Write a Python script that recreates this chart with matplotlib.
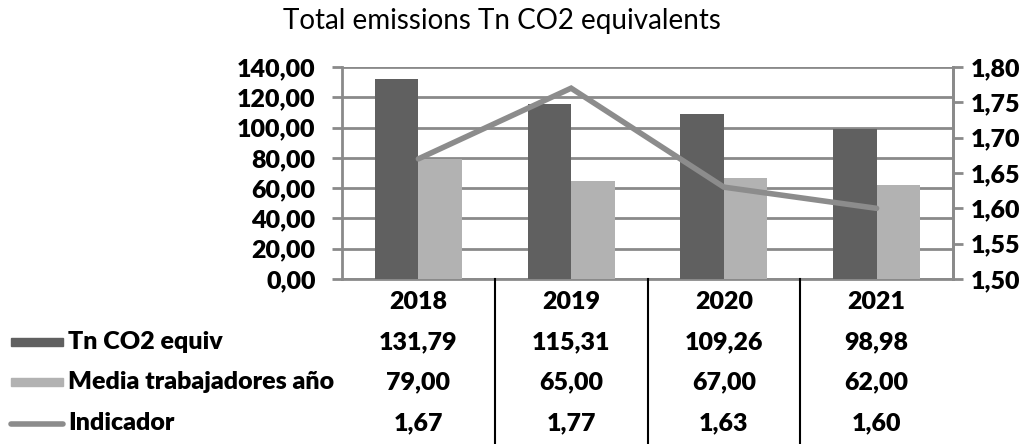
import numpy as np
import matplotlib
matplotlib.use("Agg")
import matplotlib.pyplot as plt
from matplotlib.patches import Rectangle
from matplotlib.lines import Line2D
from matplotlib.transforms import blended_transform_factory
from matplotlib.ticker import FuncFormatter

plt.rcParams['font.family'] = ['Lato', 'DejaVu Sans']

# data
years = ['2018', '2019', '2020', '2021']
emisiones = [131.79, 115.31, 109.26, 98.98]
trabajadores = [79.00, 65.00, 67.00, 62.00]
indicador = [1.67, 1.77, 1.63, 1.60]
series_names = ['Tn CO2 equiv', 'Media trabajadores año', 'Indicador']

c_dark = '#606060'
c_light = '#b2b2b2'
c_line = '#8c8c8c'
c_grid = '#8a8a8a'
BOLD = 'heavy'
FS = 18

W, H = 1030, 444
fig = plt.figure(figsize=(W / 100, H / 100), dpi=100)

def fy(px):
    return 1 - px / H

def fx(px):
    return px / W

def comma(v):
    return f'{v:.2f}'.replace('.', ',')

ax = fig.add_axes([fx(342), fy(279), fx(953) - fx(342), fy(67) - fy(279)])
x = np.arange(len(years))
bw = 0.285
ax.bar(x - bw / 2, emisiones, bw, color=c_dark, zorder=3)
ax.bar(x + bw / 2, trabajadores, bw, color=c_light, zorder=3)
ax.set_xlim(-0.5, 3.5)
ax.set_ylim(0, 140)
ax.set_yticks(np.arange(0, 141, 20))
ax.yaxis.set_major_formatter(FuncFormatter(lambda v, p: comma(v)))
ax.grid(axis='y', color=c_grid, lw=2, zorder=0)
ax.set_xticks([])
ax.spines['top'].set_visible(False)
for s in ['left', 'right', 'bottom']:
    ax.spines[s].set_color(c_grid)
    ax.spines[s].set_linewidth(2)
ax.tick_params(axis='y', length=7, width=2, color=c_grid, labelsize=FS, pad=12)
for t in ax.get_yticklabels():
    t.set_fontweight(BOLD)

ax2 = ax.twinx()
ax2.plot(x, indicador, color=c_line, lw=4, solid_joinstyle='miter', solid_capstyle='round', zorder=4)
ax2.set_ylim(1.5, 1.8)
ax2.set_yticks(np.arange(1.5, 1.801, 0.05))
ax2.yaxis.set_major_formatter(FuncFormatter(lambda v, p: comma(v)))
for s in ['top', 'left', 'bottom']:
    ax2.spines[s].set_visible(False)
ax2.spines['right'].set_color(c_grid)
ax2.spines['right'].set_linewidth(2)
ax2.tick_params(axis='y', length=7, width=2, color=c_grid, labelsize=FS, pad=6)
for t in ax2.get_yticklabels():
    t.set_fontweight(BOLD)

fig.text(fx(502), fy(21), 'Total emissions Tn CO2 equivalents', ha='center', va='center', fontsize=20)

# data table under the plot
tr = blended_transform_factory(ax.transData, fig.transFigure)
for b in [0.5, 1.5, 2.5]:
    fig.add_artist(Line2D([b, b], [fy(279), fy(444)], transform=tr, color='black', lw=1.5))

row_y = [302, 342, 382, 423]
rows = [years,
        [comma(v) for v in emisiones],
        [comma(v) for v in trabajadores],
        [comma(v) for v in indicador]]
for ry, vals in zip(row_y, rows):
    for xi, v in zip(x, vals):
        fig.text(xi, fy(ry), v, transform=tr, ha='center', va='center',
                 fontsize=FS, fontweight=BOLD)

# legend keys and row names
fig.add_artist(Rectangle((fx(11), fy(346)), fx(63) - fx(11), 8 / H, transform=fig.transFigure, color=c_dark))
fig.add_artist(Rectangle((fx(11), fy(386)), fx(63) - fx(11), 8 / H, transform=fig.transFigure, color=c_light))
fig.add_artist(Line2D([fx(11), fx(63)], [fy(424), fy(424)], transform=fig.transFigure,
                      color=c_line, lw=4, solid_capstyle='round'))
for ry, name in zip(row_y[1:], series_names):
    fig.text(fx(68), fy(ry), name, ha='left', va='center', fontsize=FS, fontweight=BOLD)

fig.savefig('out.png', dpi=100)
